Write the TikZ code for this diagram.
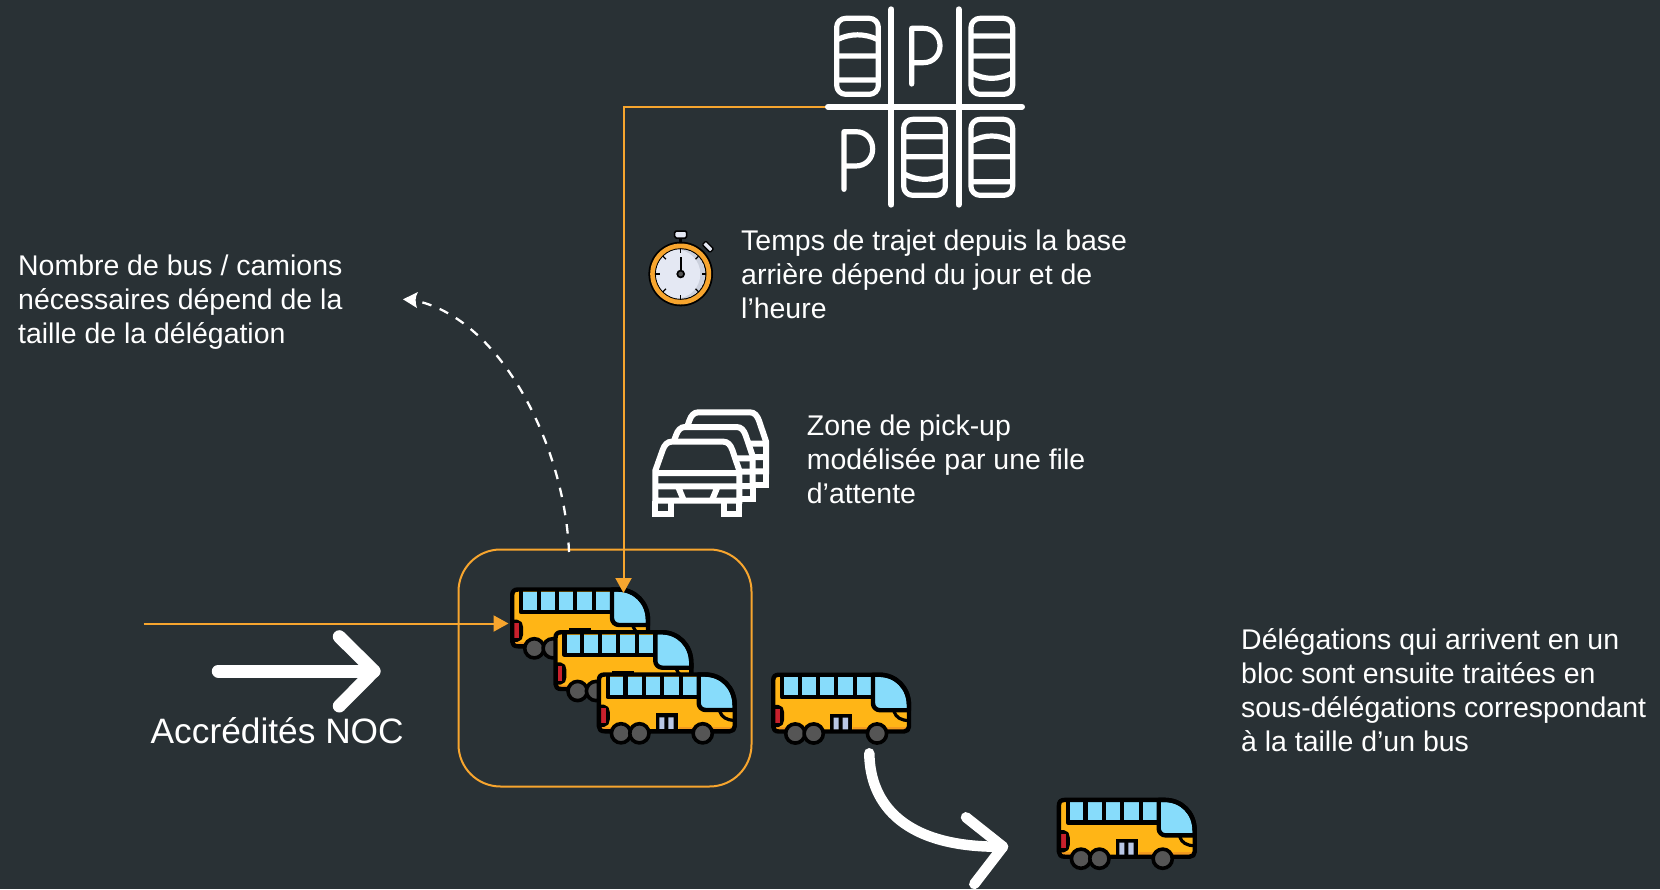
\documentclass[tikz,border=0pt]{standalone}
\usepackage{fontspec}
\setmainfont{Liberation Sans}
\usetikzlibrary{arrows.meta}
\definecolor{bgc}{HTML}{293135}
\definecolor{orl}{HTML}{F7A52E}
\definecolor{busy}{HTML}{FFB516}
\definecolor{busd}{HTML}{F39A1E}
\definecolor{busb}{HTML}{87DCFB}
\definecolor{busr}{HTML}{C8202C}
\definecolor{busg}{HTML}{555555}
\definecolor{busl}{HTML}{B9C7E6}
\definecolor{facec}{HTML}{E4E8F3}
\definecolor{shadec}{HTML}{CBD0DC}
\tikzset{
  txt/.style={anchor=north west,inner sep=0pt,align=left,text=white,font=\fontsize{28.45}{33.9}\selectfont},
  orangeline/.style={draw=orl,line width=2pt,-{Triangle[length=15pt,width=16pt]}},
  whitebar/.style={draw=white,line cap=round,line join=round},
  iconline/.style={draw=white,line width=5.2pt,line cap=round,line join=round},
  carline/.style={draw=white,line width=6pt,line join=miter},
  blk/.style={draw=black,line width=4.4pt,line join=round},
  blkthin/.style={draw=black,line width=3.2pt,line join=round},
  pics/bus/.style={code={
    \fill[busy] (2.2,8) .. controls (2.2,4) and (4,2.2) .. (8,2.2) -- (108,2.2) .. controls (125,2.2) and (138,15) .. (138,33) -- (138,54) .. controls (138,57) and (136,59) .. (133,59) -- (8,59) .. controls (4,59) and (2.2,57) .. (2.2,54) -- cycle;
    \fill[busd] (82,54.5) rectangle (136,58);
    \fill[busd] (4,54.5) rectangle (20,58);
    \fill[busb] (13,4.5) rectangle (101,22.7);
    \draw[black,line width=4.2pt] (28.8,3) -- (28.8,24) (47,3) -- (47,24) (65,3) -- (65,24) (83.9,3) -- (83.9,24);
    \draw[blk] (11,3) -- (11,24.7) -- (104,24.7);
    \filldraw[fill=busb,blk] (102,2.2) -- (108,2.2) .. controls (125,2.2) and (138,15) .. (138,33) -- (138,37.7) -- (109,37.7) .. controls (105,37.7) and (102,34.5) .. (102,31) -- cycle;
    \draw[blkthin] (123,39) .. controls (125,45) and (130,48) .. (138,48);
    \filldraw[fill=black,blkthin] (1,34) -- (7,34) .. controls (10,34) and (11.5,37) .. (11.5,40) -- (11.5,47) .. controls (11.5,50) and (10,53) .. (7,53) -- (1,53);
    \fill[busr] (4.3,36) rectangle (8.8,50.5);
    \fill[black] (59,41) rectangle (81,60);
    \fill[busl] (62.7,45) rectangle (67.7,59) (71.7,45) rectangle (77,59);
    \draw[blk] (2.2,8) .. controls (2.2,4) and (4,2.2) .. (8,2.2) -- (108,2.2) .. controls (125,2.2) and (138,15) .. (138,33) -- (138,54) .. controls (138,57) and (136,59) .. (133,59) -- (8,59) .. controls (4,59) and (2.2,57) .. (2.2,54) -- cycle;
    \filldraw[fill=busg,draw=black,line width=3.6pt] (24.3,61) circle (9.6);
    \filldraw[fill=busg,draw=black,line width=3.6pt] (42.7,61) circle (9.6);
    \filldraw[fill=busg,draw=black,line width=3.6pt] (106,61) circle (9.6);
  }},
  pics/carshape/.style={code={
    \path[fill=bgc] (76,842) -- (76,752) -- (98,690) .. controls (103,675) and (112,665) .. (125,665) -- (280,665) .. controls (293,665) and (302,675) .. (307,690) -- (328,752) -- (328,842) -- cycle;
    \draw[carline] (76,842) -- (76,752) -- (98,690) .. controls (103,675) and (112,665) .. (125,665) -- (280,665) .. controls (293,665) and (302,675) .. (307,690) -- (328,752) -- (328,842) -- cycle;
    \draw[carline] (76,759) -- (328,759) (76,799) -- (328,799) (145,802) -- (160,838) (262,802) -- (247,838);
    \draw[carline] (76,842) -- (76,882) -- (122,882) -- (122,842) (283,842) -- (283,882) -- (328,882) -- (328,842);
  }}
}
\begin{document}
\begin{tikzpicture}[x=1pt,y=-1pt]
\useasboundingbox[fill=bgc] (0,0) rectangle (1660,889);

% pick-up box
\node[draw=orl,line width=2pt,rounded corners=42pt,minimum width=293pt,minimum height=237pt,inner sep=0pt] (box) at (605,668) {};

% coordinates
\coordinate (bus1) at (510,587.3);
\coordinate (bus2) at (553.3,630);
\coordinate (bus3) at (596.7,672.3);
\coordinate (bus4) at (771,672.5);
\coordinate (bus5) at (1056.7,797.7);
\coordinate (parkW) at (828,106.7);
\coordinate (inTop) at (623.5,593);
\coordinate (inLeft) at (508.5,623.5);
\coordinate (srcLeft) at (143.5,623.5);
\coordinate (dashS) at (569,552);
\coordinate (dashE) at (403,299.3);
\coordinate (a1s) at (218.3,671);
\coordinate (a1e) at (374,671);
\coordinate (a1u) at (339.3,636.7);
\coordinate (a1d) at (339.3,706);
\coordinate (a2s) at (869.3,753.3);
\coordinate (a2e) at (1003,846.7);
\coordinate (a2u) at (966,817.3);
\coordinate (a2d) at (974.3,884);

% buses
\pic at (bus1) {bus};
\pic at (bus2) {bus};
\pic at (bus3) {bus};
\pic at (bus4) {bus};
\pic at (bus5) {bus};

% connectors
\draw[orangeline] (parkW) -| (inTop);
\draw[orangeline] (srcLeft) -- (inLeft);
\draw[draw=white,line width=2.3pt,dash pattern=on 9.5pt off 9pt] (dashS) .. controls (565,450) and (505,325) .. (421,302);
\fill[white] (dashE) -- (418,292) .. controls (415,297) and (415,302) .. (417,308) -- cycle;

% white arrows
\draw[whitebar,line width=13pt] (a1s) -- (a1e);
\draw[whitebar,line width=13pt] (a1u) -- (a1e) -- (a1d);
\draw[whitebar,line width=10.5pt] (a2s) .. controls (870,805) and (905,848) .. (a2e);
\draw[whitebar,line width=10.5pt] (a2u) -- (a2e) -- (a2d);

% parking icon
\begin{scope}[shift={(810,0)},x=0.33333pt,y=-0.33333pt]
  \draw[iconline,line width=6pt] (54,320) -- (636,320);
  \draw[iconline,line width=6pt] (244,28) -- (244,614) (446,28) -- (446,614);
  \foreach \cx/\cy in {80/55,483/55,281/358,483/358}{
    \draw[iconline,rounded corners=9pt] (\cx,\cy) rectangle ++(125,228);
  }
  % car 1
  \draw[iconline] (84,118) .. controls (120,100) and (165,100) .. (201,118) (84,168) -- (201,168) (84,240) -- (201,240);
  % car 2
  \draw[iconline] (487,108) -- (604,108) (487,168) -- (604,168) (487,220) .. controls (525,240) and (565,240) .. (604,220);
  % car 3
  \draw[iconline] (285,410) -- (404,410) (285,470) -- (404,470) (285,523) .. controls (325,543) and (365,543) .. (404,523);
  % car 4
  \draw[iconline] (487,423) .. controls (525,403) and (565,403) .. (604,423) (487,470) -- (604,470) (487,545) -- (604,545);
  % letters P
  \draw[iconline] (305,252) -- (305,85) -- (340,85) .. controls (372,85) and (390,110) .. (390,137) .. controls (390,165) and (370,188) .. (340,188) -- (305,188);
  \draw[iconline] (102,568) -- (102,395) -- (137,395) .. controls (170,395) and (188,420) .. (188,447) .. controls (188,475) and (168,498) .. (137,498) -- (102,498);
\end{scope}

% stopwatch
\begin{scope}[shift={(680.7,274)}]
  \draw[black,line width=2.5pt] (0,-32) -- (0,-38);
  \filldraw[fill=facec,draw=black,line width=1.5pt,rounded corners=1.5pt] (-6,-43) rectangle (6,-36);
  \filldraw[fill=facec,draw=black,line width=1.3pt,rotate=-45,rounded corners=1pt] (-5.5,-41) rectangle (5.5,-36);
  \fill[black] (0,0) circle (32.3);
  \fill[orl] (0,0) circle (30.5);
  \fill[black] (0,0) circle (25.8);
  \fill[facec] (0,0) circle (24.6);
  \begin{scope}
    \clip (0,0) circle (24.6);
    \fill[shadec] (0,0) circle (24.6);
    \fill[facec] (-5,0) circle (24.6);
  \end{scope}
  \foreach \a in {0,45,...,315}{
    \draw[black,line width=1.3pt,rotate=\a] (0,-25) -- (0,-21);
  }
  \draw[black,line width=2pt] (0,0) -- (0,-17);
  \filldraw[fill=busg,draw=black,line width=1.7pt] (0,0) circle (3.4);
\end{scope}

% car queue icon
\begin{scope}[shift={(630,220)},x=0.33333pt,y=-0.33333pt]
  \pic at (80,-88) {carshape};
  \pic at (40,-44) {carshape};
  \pic at (0,0) {carshape};
\end{scope}

% texts
\node[txt] (t1) at (18,251.5) {\strut Nombre de bus / camions\\nécessaires dépend de la\\taille de la délégation};
\node[txt] (t2) at (741,226.5) {\strut Temps de trajet depuis la base\\arrière dépend du jour et de\\l’heure};
\node[txt] (t3) at (806.7,411.5) {\strut Zone de pick-up\\modélisée par une file\\d’attente};
\node[txt] (t4) at (1241,625.5) {\strut Délégations qui arrivent en un\\bloc sont ensuite traitées en\\sous-délégations correspondant\\à la taille d’un bus};
\node[anchor=base west,inner sep=0pt,text=white,font=\fontsize{35.3}{40}\selectfont] (t5) at (150.5,743.3) {Accrédités NOC};
\end{tikzpicture}
\end{document}
